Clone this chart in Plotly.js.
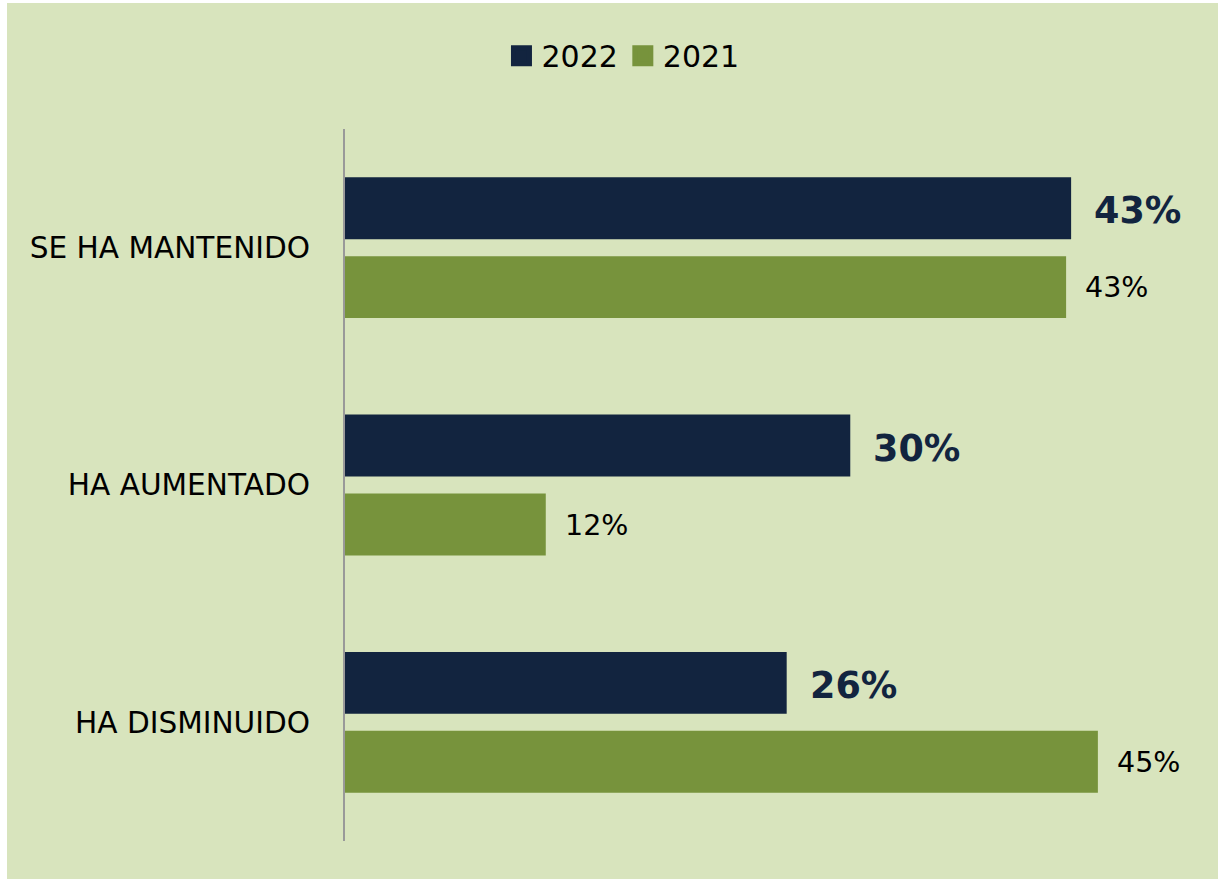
<!DOCTYPE html>
<html>
<head>
<meta charset="utf-8">
<script src="https://cdn.plot.ly/plotly-3.0.1.min.js"></script>
<style>
  html, body { margin: 0; padding: 0; background: #ffffff; }
  #chart { position: absolute; left: 7px; top: 3px; width: 1211px; height: 876px; }
</style>
</head>
<body>
<div id="chart"></div>
<script>
// categorias y valores
const categorias = ['SE HA MANTENIDO', 'HA AUMENTADO', 'HA DISMINUIDO'];
const series = ['2022', '2021'];
const valores2022 = [43.4, 30.2, 26.4];
const valores2021 = [43.1, 12, 45];
const etiquetas2022 = ['43%', '30%', '26%'];
const etiquetas2021 = ['43%', '12%', '45%'];

const colorNavy = '#12243f';
const colorVerde = '#77933c';
const fuente = 'DejaVu Sans, sans-serif';

const trace2022 = {
  type: 'bar', orientation: 'h', name: series[0],
  y: categorias, x: valores2022,
  marker: {color: colorNavy},
  showlegend: false, hoverinfo: 'skip'
};
const trace2021 = {
  type: 'bar', orientation: 'h', name: series[1],
  y: categorias, x: valores2021,
  marker: {color: colorVerde},
  showlegend: false, hoverinfo: 'skip'
};

// solo para la leyenda (cuadrados mas grandes que los de barras)
const leyenda = [colorNavy, colorVerde].map((col, i) => ({
  type: 'scatter', mode: 'markers', name: series[i],
  x: [null], y: [null],
  marker: {symbol: 'square', size: 16, color: col, line: {color: col, width: 5}},
  hoverinfo: 'skip'
}));

// etiquetas de valor como anotaciones (desplazadas a cada barra del grupo)
const anotaciones = [];
categorias.forEach((c, i) => {
  anotaciones.push({
    x: valores2022[i], y: c, xref: 'x', yref: 'y',
    text: etiquetas2022[i], showarrow: false,
    xanchor: 'left', yanchor: 'middle', xshift: 21, yshift: 37,
    font: {family: fuente, size: 36.5, color: colorNavy, weight: 'bold'}
  });
  anotaciones.push({
    x: valores2021[i], y: c, xref: 'x', yref: 'y',
    text: etiquetas2021[i], showarrow: false,
    xanchor: 'left', yanchor: 'middle', xshift: 17, yshift: -40,
    font: {family: fuente, size: 28.5, color: '#000000'}
  });
});

const layout = {
  width: 1211, height: 876,
  margin: {l: 338, r: 3, t: 126, b: 38},
  paper_bgcolor: '#d8e4bd',
  plot_bgcolor: '#d8e4bd',
  font: {family: fuente, color: '#000000'},
  barmode: 'group',
  bargap: 0.335,
  bargroupgap: 0.216,
  showlegend: true,
  legend: {
    orientation: 'h', x: 0.3195, xanchor: 'center', y: 1.103, yanchor: 'middle',
    font: {size: 30, color: '#000000'}, traceorder: 'normal',
    itemsizing: 'trace', bgcolor: 'rgba(0,0,0,0)'
  },
  xaxis: {range: [0, 52], showgrid: false, zeroline: false, showticklabels: false, showline: false, fixedrange: true},
  yaxis: {
    autorange: 'reversed', showgrid: false, zeroline: false,
    showline: true, linecolor: '#999999', linewidth: 2,
    ticks: 'outside', ticklen: 27, tickcolor: 'rgba(0,0,0,0)',
    tickfont: {size: 29.6, color: '#000000'}, fixedrange: true
  },
  annotations: anotaciones
};

Plotly.newPlot('chart', [trace2022, trace2021].concat(leyenda), layout, {displayModeBar: false, staticPlot: true});
</script>
</body>
</html>
